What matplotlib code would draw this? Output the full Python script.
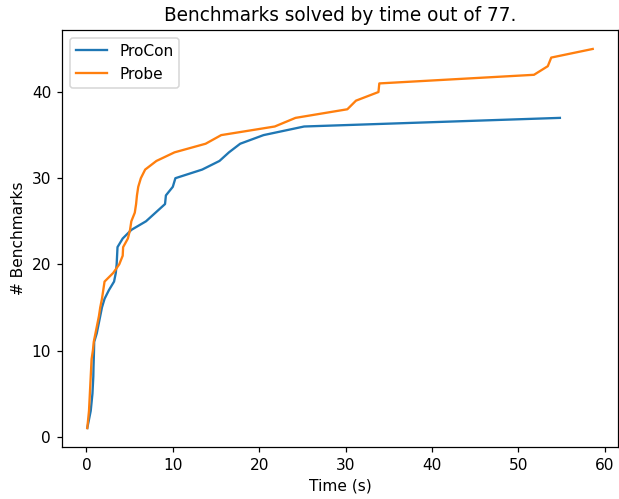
import matplotlib
matplotlib.use("Agg")
import matplotlib.pyplot as plt

procon_times = [0.1, 0.3, 0.5, 0.6, 0.7, 0.75, 0.8, 0.82, 0.85, 0.88, 0.9,
                1.2, 1.4, 1.6, 1.8, 2.1, 2.6, 3.2, 3.4, 3.5, 3.55, 3.6,
                4.2, 5.2, 6.9, 8.0, 9.1, 9.2, 10.0, 10.3, 13.4, 15.4,
                16.5, 17.8, 20.5, 25.2, 54.8]
procon_counts = [1, 2, 3, 4, 5, 6, 7, 8, 9, 10, 11, 12, 13, 14, 15, 16, 17,
                 18, 19, 20, 21, 22, 23, 24, 25, 26, 27, 28, 29, 30, 31, 32,
                 33, 34, 35, 36, 37]

probe_times = [0.1, 0.2, 0.3, 0.35, 0.4, 0.45, 0.5, 0.55, 0.6, 0.75, 0.85,
               1.05, 1.25, 1.45, 1.6, 1.8, 1.95, 2.1, 3.1, 3.8, 4.2, 4.25,
               4.8, 5.05, 5.2, 5.6, 5.75, 5.85, 6.0, 6.3, 6.8, 8.1, 10.2,
               13.8, 15.6, 21.8, 24.2, 30.2, 31.2, 33.8, 33.9, 51.8, 53.4,
               53.8, 58.6]
probe_counts = [1, 2, 3, 4, 5, 6, 7, 8, 9, 10, 11, 12, 13, 14, 15, 16, 17,
                18, 19, 20, 21, 22, 23, 24, 25, 26, 27, 28, 29, 30, 31, 32,
                33, 34, 35, 36, 37, 38, 39, 40, 41, 42, 43, 44, 45]

DPI = 111
fig = plt.figure(figsize=(619 / DPI, 499 / DPI), dpi=DPI)
ax = fig.add_axes([62 / 619, (499 - 447) / 499, (618 - 62) / 619, (447 - 30) / 499])
ax.plot(procon_times, procon_counts, label="ProCon")
ax.plot(probe_times, probe_counts, label="Probe")
ax.set_title("Benchmarks solved by time out of 77.")
ax.set_xlabel("Time (s)")
ax.set_ylabel("# Benchmarks")
ax.legend(loc="upper left")
fig.savefig("out.png", dpi=DPI)
